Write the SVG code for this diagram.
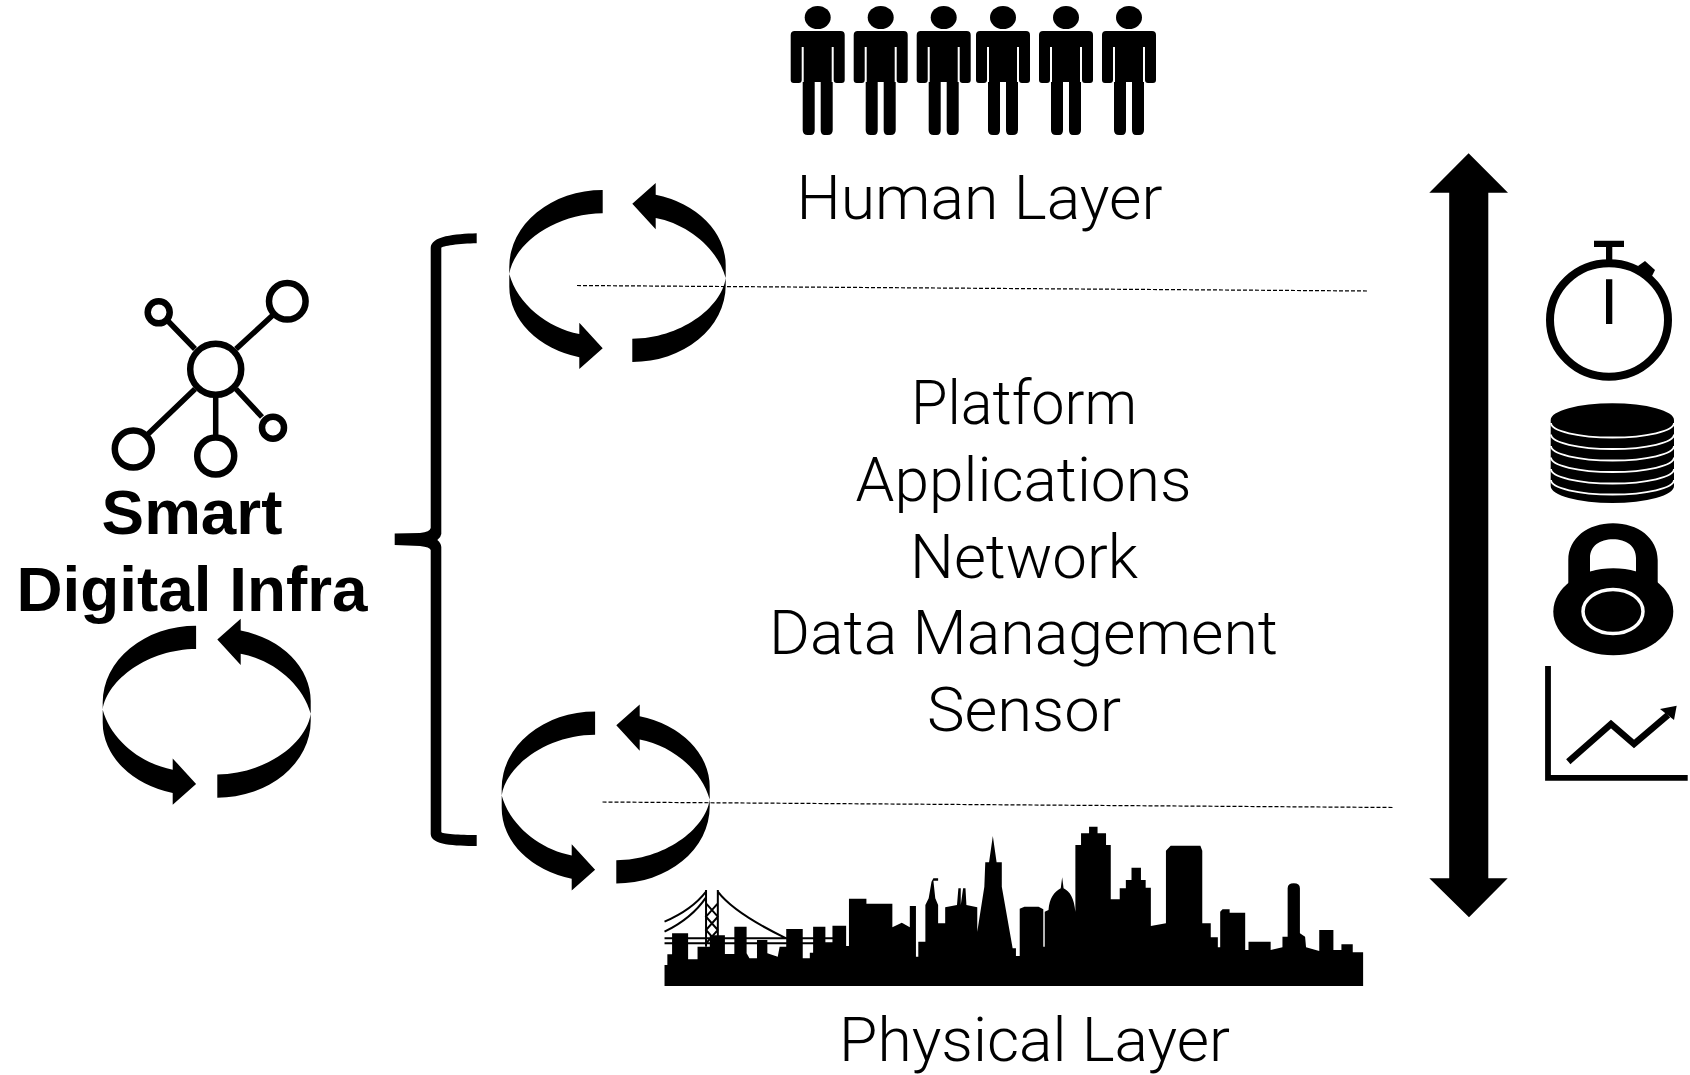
<svg xmlns="http://www.w3.org/2000/svg" xmlns:xlink="http://www.w3.org/1999/xlink" width="1690" height="1075" viewBox="0 0 1690 1075">
<style>
.t{font-family:"Roboto","Liberation Sans",sans-serif;font-weight:300;font-size:62px;fill:#000;text-anchor:middle}
.b{font-family:"Liberation Sans",Arial,sans-serif;font-weight:700;font-size:63.800px;fill:#000;text-anchor:middle}
.dash{stroke:#000;stroke-width:1.2;stroke-dasharray:4 2;fill:none}
.ln{stroke:#000;fill:none}
.w{stroke:#fff;fill:none}
</style>
<defs>
<g id="person">
<ellipse cx="0" cy="17.500" rx="13" ry="11.500"/>
<path d="M-23 31H23Q27 31 27 35V80Q27 83 24 83H19Q16 83 16 80V47H14V82H15V130Q15 135 10 135H7Q3 135 3 130V82H-3V130Q-3 135-7 135H-10Q-15 135-15 130V82H-14V47H-16V80Q-16 83-19 83H-24Q-27 83-27 80V35Q-27 31-23 31Z"/>
</g>
<path id="loophalf" d="M-14.800-86A93.400 76.700 0 0 0-108.200-9.300L-108.200 10.700A93.400 73 0 0 0-38.200 81.300L-38.200 93L-14.800 72.300L-38.200 46.700L-38.200 58C-70 52-100 28-108.200-2C-104-32-62-62.700-14.800-62.700Z"/>
<g id="loopwide">
<use xlink:href="#loophalf" href="#loophalf"/>
<use xlink:href="#loophalf" href="#loophalf" transform="rotate(180)"/>
</g>
<g id="loopnarrow">
<use xlink:href="#loophalf" href="#loophalf" transform="translate(4.200 0)"/>
<use xlink:href="#loophalf" href="#loophalf" transform="rotate(180) translate(4.200 0)"/>
</g>
</defs>
<rect width="1690" height="1075" fill="#fff"/>

<g id="connectors">
<path class="dash" d="M577 285.500L1367 291"/>
<path class="dash" d="M602.500 802L1393 807.500"/>
<path id="updown" d="M1468.600 153.300L1508 192.700H1488.300V878.300H1507.700L1469 917.300L1429.300 878.300H1449.200V192.700H1429.300Z"/>
<path id="brace" d="M476.700 233.300C455 234 431 236 430.700 248V528Q430 532 420 533L394.700 533.500V545L420 546Q430 547 430.700 550V834C431 845 455 846 476.700 846V835C460 835 441.300 834 441.300 832V547Q441 543 437.300 540Q441 537 441.300 534V248C441.300 246 460 243.500 476.700 243.300Z"/>
</g>

<g id="human-layer">
<use xlink:href="#person" href="#person" x="817.700"/>
<use xlink:href="#person" href="#person" x="880.700"/>
<use xlink:href="#person" href="#person" x="943.700"/>
<use xlink:href="#person" href="#person" x="1003"/>
<use xlink:href="#person" href="#person" x="1066"/>
<use xlink:href="#person" href="#person" x="1129"/>
<text class="t" x="979.500" y="219" textLength="366" lengthAdjust="spacingAndGlyphs">Human Layer</text>
</g>

<g id="loop-top"><use xlink:href="#loopwide" href="#loopwide" transform="translate(617.500 276)"/></g>
<g id="loop-bottom"><use xlink:href="#loopnarrow" href="#loopnarrow" transform="translate(605.700 797.500)"/></g>
<g id="loop-left"><use xlink:href="#loopnarrow" href="#loopnarrow" transform="translate(206.700 711.700)"/></g>

<g id="smart-digital-infra">
<g class="ln" stroke-width="5.500">
<path d="M236 349L273 315M195 349L167 320M195 389L146 436M215.700 395V438M236 389L262 417"/>
</g>
<g class="ln" stroke-width="6.500">
<circle cx="215.700" cy="369.300" r="25.500"/>
<circle cx="287.300" cy="301.300" r="18.300"/>
<circle cx="158.700" cy="312.300" r="11"/>
<circle cx="133.300" cy="449" r="18.500"/>
<circle cx="215.700" cy="456" r="18.500"/>
<circle cx="273" cy="427.700" r="11"/>
</g>
<text class="b" x="192" y="534">Smart</text>
<text class="b" x="192" y="611">Digital Infra</text>
</g>

<g id="layers-list">
<text class="t" x="1024" y="424" textLength="226" lengthAdjust="spacingAndGlyphs">Platform</text>
<text class="t" x="1023.500" y="501" textLength="336" lengthAdjust="spacingAndGlyphs">Applications</text>
<text class="t" x="1024" y="578" textLength="228" lengthAdjust="spacingAndGlyphs">Network</text>
<text class="t" x="1023.500" y="654" textLength="509" lengthAdjust="spacingAndGlyphs">Data Management</text>
<text class="t" x="1024" y="731" textLength="194" lengthAdjust="spacingAndGlyphs">Sensor</text>
</g>

<g id="physical-layer">
<g transform="translate(640 810) scale(.4717 .3333)">
<path d="M52 528V465H58V433H68V370H102V448H122V410H148V376H180V432H200V350H226V430L232 445H248V390H270V430L292 440L296 410H310V357H345V445H360V428H367V350H393V400H408V347H437V408H443V266H480V281H535V352L555 338L572 352V288H585V440H590V395H605V285L612 265L618 215L622 205H632V212H622L626 265L632 285V340H647V292L672 285L675 235H680V285L685 235H690L692 285L715 292V365L730 230L732 157H740L748 78L756 157H767V230L790 415H797V438H805V296L815 290H845L855 298V410H858V305L866 300C868 265 878 245 892 235L895 202L898 235C912 245 920 265 923 305V105H935V70H952V50H970V70H988V105H998V268H1017V235H1030V210H1042V173H1062V210H1072V233H1083V348L1115 340V122L1125 107H1188L1192 122V340H1210V382H1225V412H1230V305L1235 298H1250V308H1283V420H1290V395H1337V420L1362 412V380H1373V235Q1373 220 1386 220Q1399 220 1399 235V370L1410 380L1412 412L1440 423V360H1470V420H1487V403H1511V427H1533V528Z"/>
<g class="ln" stroke-width="2">
<path vector-effect="non-scaling-stroke" d="M52 335Q110 300 140 245M52 365Q110 325 140 262M165 245Q200 310 310 385M52 385H410M52 400H410M140 240V410M165 240V410M140 280L165 320L140 360L165 400M165 280L140 320L165 360L140 400"/>
</g>
</g>
<text class="t" x="1034.500" y="1061" textLength="391" lengthAdjust="spacingAndGlyphs">Physical Layer</text>
</g>

<g id="stopwatch">
<ellipse class="ln" stroke-width="8" cx="1609" cy="320" rx="59" ry="56.700"/>
<path d="M1594 240.700H1624V247H1612.300V260H1606V247H1594ZM1606 279.300H1612.300V324H1606Z"/>
<path d="M1638 266L1645 261L1655 270L1652 276L1642 274Z"/>
</g>

<g id="coins">
<path d="M1550.700 420A61.500 16.700 0 0 1 1674 420V486A61.500 17 0 0 1 1550.700 486Z"/>
<g class="w" stroke-width="1.800">
<path d="M1551 423A61.500 14.500 0 0 0 1674 423"/>
<path d="M1551 434.500A61.500 14.500 0 0 0 1674 434.500"/>
<path d="M1551 446A61.500 14.500 0 0 0 1674 446"/>
<path d="M1551 457.500A61.500 14.500 0 0 0 1674 457.500"/>
<path d="M1551 469A61.500 14.500 0 0 0 1674 469"/>
<path d="M1551 480A61.500 14.500 0 0 0 1674 480"/>
</g>
</g>

<g id="lock">
<path fill-rule="evenodd" d="M1568.300 590V560C1568.300 538 1588 523.300 1613 523.300C1638 523.300 1657.700 538 1657.700 560V590ZM1590 572C1604 568 1622 568 1636 572V558C1636 546 1626 539.300 1613 539.300C1600 539.300 1590 546 1590 558Z"/>
<ellipse cx="1613.300" cy="611.700" rx="60" ry="43.500"/>
<ellipse cx="1613" cy="611.500" rx="30" ry="22" fill="#000" stroke="#fff" stroke-width="3.500"/>
</g>

<g id="chart">
<path class="ln" stroke-width="5.800" d="M1548 666V777.800H1687.700"/>
<path class="ln" stroke-width="6.500" d="M1568.300 761.700L1611 724L1634 744L1668 715"/>
<path d="M1676.700 705.700L1674 720L1660 709Z"/>
</g>
</svg>
